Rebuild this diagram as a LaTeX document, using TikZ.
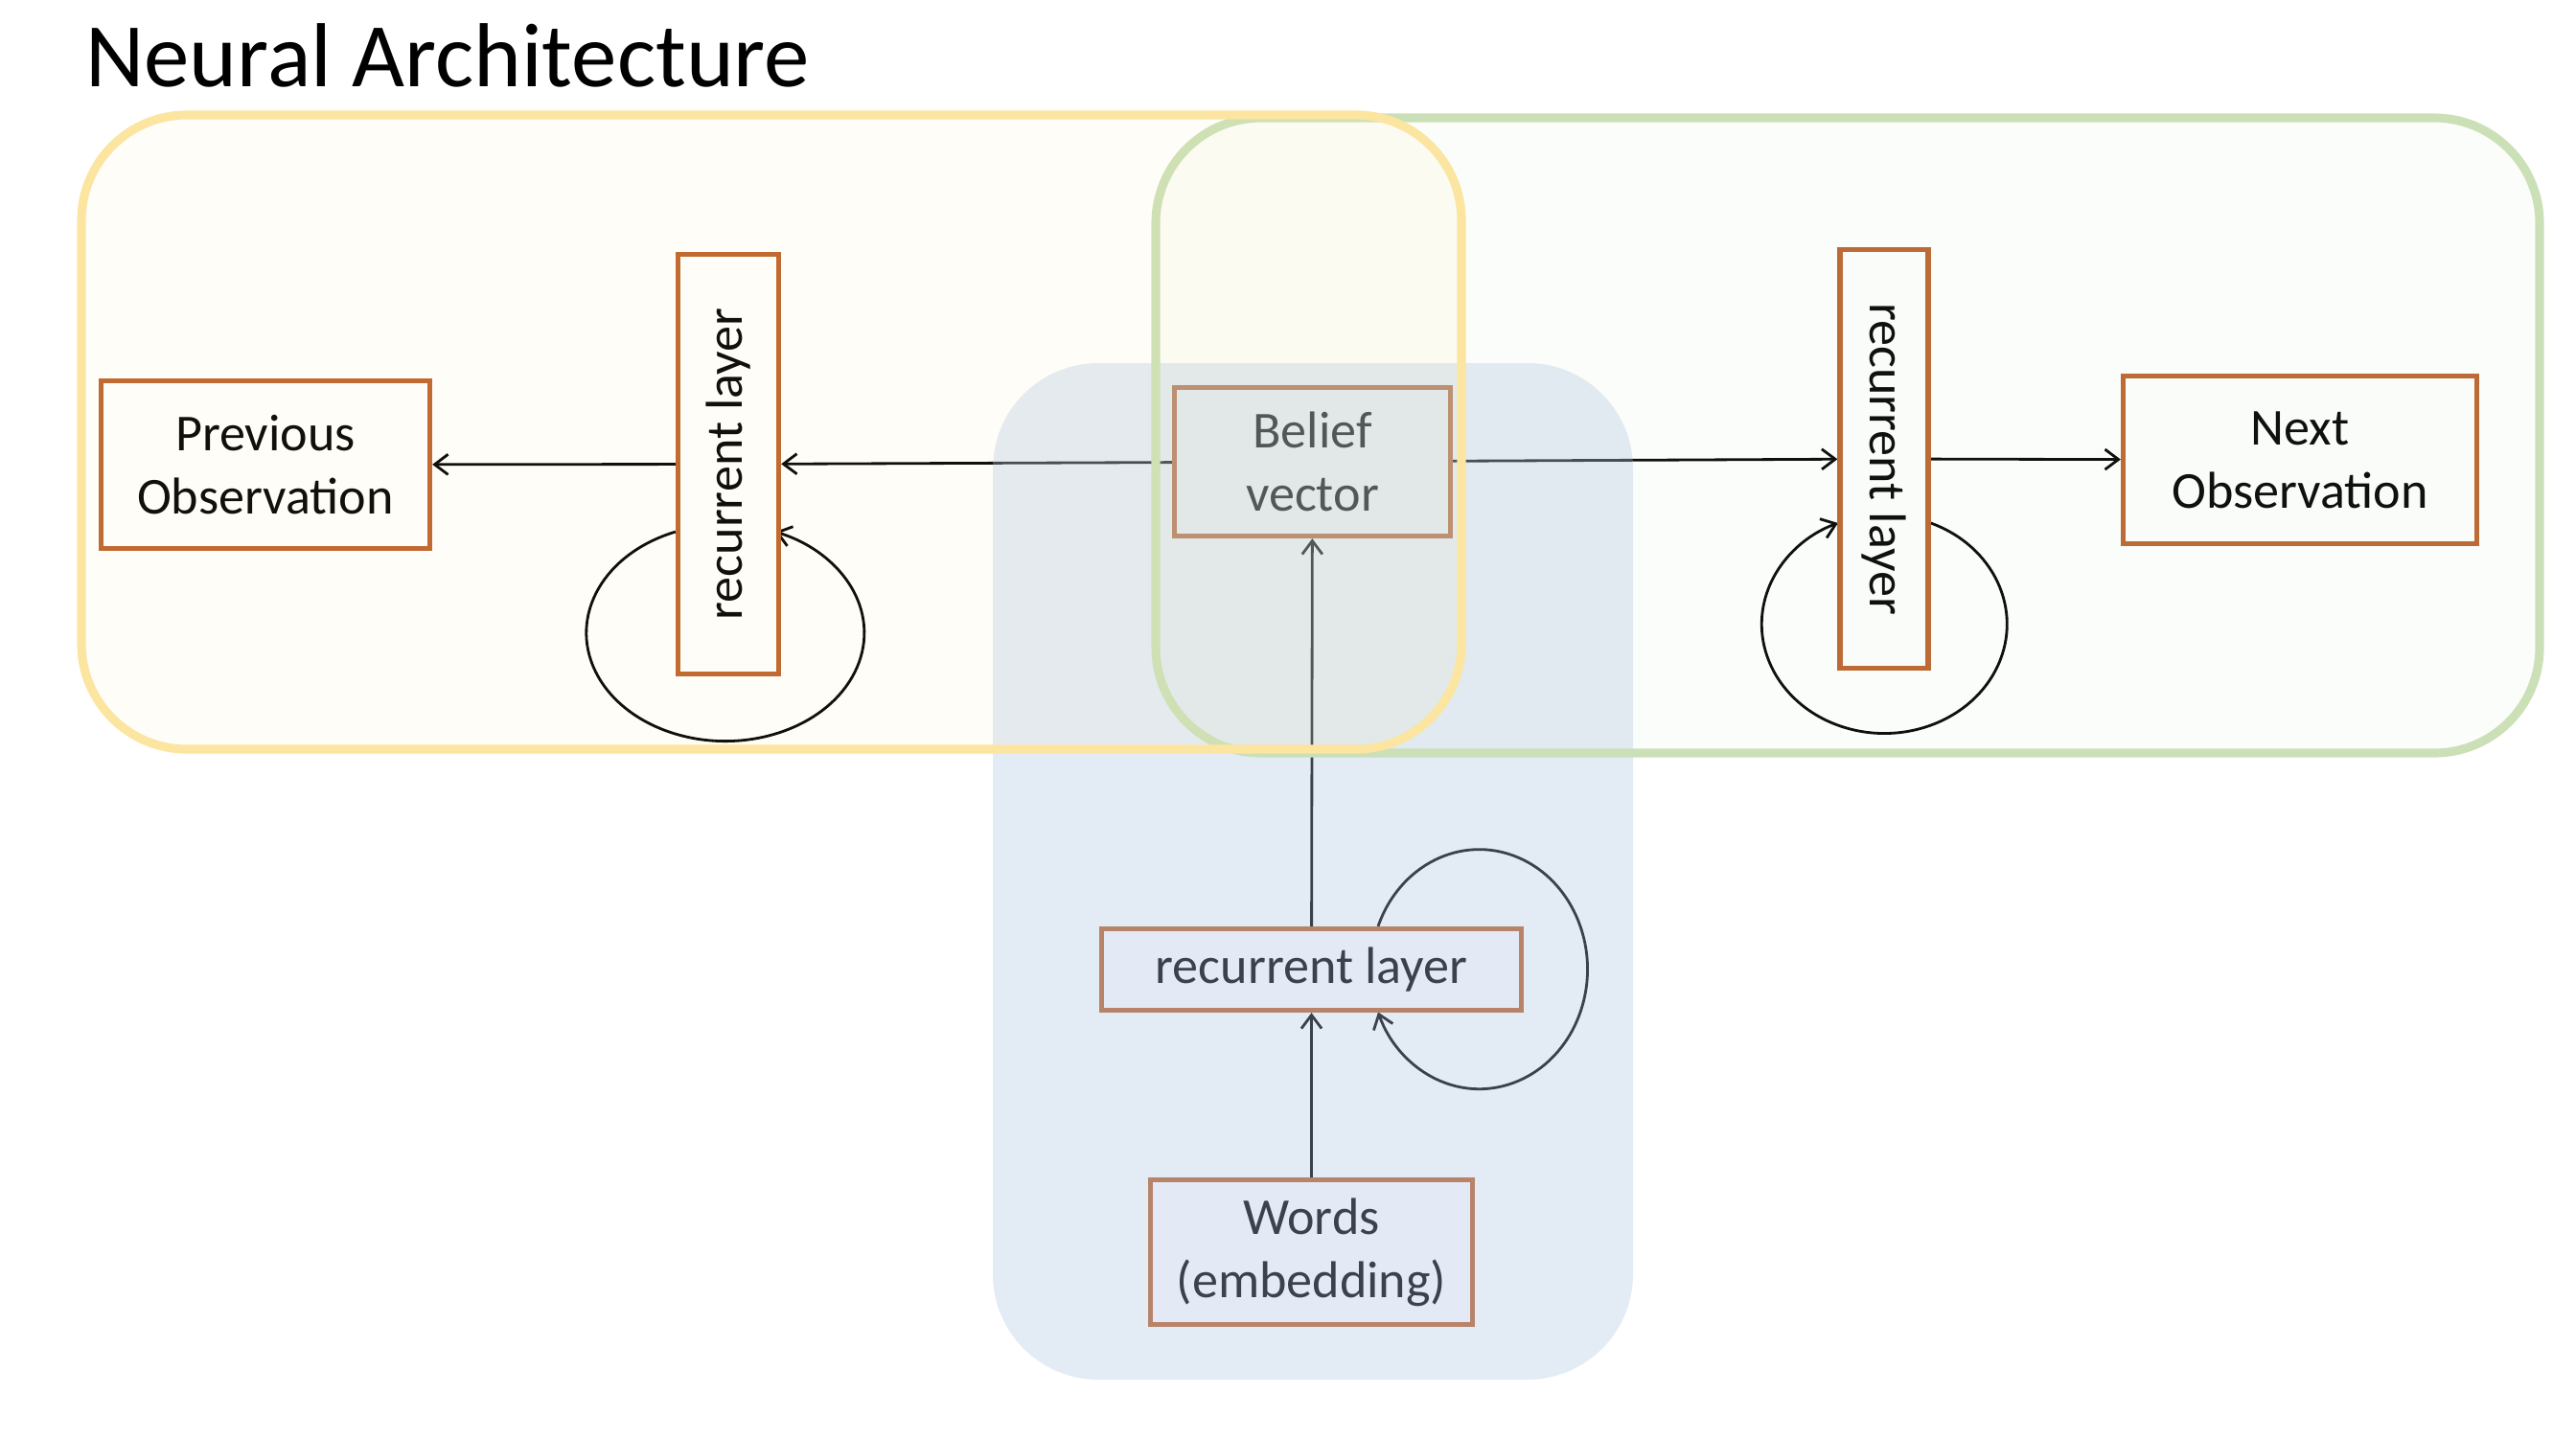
\documentclass[tikz,border=0pt]{standalone}
\usepackage{fontspec}
\setmainfont{Carlito}
\usepackage{graphicx}
\usepackage{tikz}
\definecolor{boxorange}{RGB}{189,98,44}
\definecolor{panelblue}{RGB}{174,196,226}
\definecolor{lineyellow}{RGB}{251,229,160}
\definecolor{fillyellow}{RGB}{255,230,153}
\definecolor{linegreen}{RGB}{204,224,184}
\definecolor{fillgreen}{RGB}{197,224,180}
\usetikzlibrary{arrows.meta}
\pgfdeclarelayer{edgelayer}
\pgfdeclarelayer{nodelayer}
\pgfsetlayers{edgelayer,nodelayer,main}
\tikzstyle{box}=[rectangle,fill=white,draw=boxorange,line width=1.5pt,inner sep=0pt,align=center,font=\fontsize{15.4}{18.8}\selectfont]
\tikzstyle{frame}=[line width=2.6pt,rounded corners=1.1cm]

\begin{document}
\begin{tikzpicture}[>={Straight Barb[length=4pt,width=6pt]}]
        \useasboundingbox (0,0) rectangle (26.88,-15);

        \begin{pgfonlayer}{nodelayer}
            \node [anchor=base west, font=\fontsize{27}{32}\selectfont] (title) at (0.77, -0.90) {Neural Architecture};

            \node [style = box, minimum width=3.43cm, minimum height=1.75cm] (prev) at (2.77, -4.85) {Previous\\Observation};
            \node [style = box, minimum width=1.05cm, minimum height=4.38cm] (rec1) at (7.60, -4.845) {\rotatebox{90}{recurrent layer}};
            \node [style = box, minimum width=2.88cm, minimum height=1.55cm] (belief) at (13.695, -4.82) {Belief\\vector};
            \node [style = box, minimum width=0.92cm, minimum height=4.37cm] (rec2) at (19.66, -4.79) {\rotatebox{-90}{recurrent layer}};
            \node [style = box, minimum width=3.69cm, minimum height=1.75cm] (next) at (24.00, -4.80) {Next\\Observation};

            \node [style = box, minimum width=4.38cm, minimum height=0.85cm] (rec3) at (13.685, -10.12) {recurrent layer};
            \node [style = box, minimum width=3.36cm, minimum height=1.51cm] (words) at (13.685, -13.07) {Words\\(embedding)};
        \end{pgfonlayer}

        \begin{pgfonlayer}{edgelayer}
            \draw [->, thick] (belief) to (rec1);
            \draw [->, thick] (rec1) to (prev);
            \draw [->, thick] (belief) to (rec2);
            \draw [->, thick] (rec2) to (next);
            \draw [->, thick] (rec3) to (belief);
            \draw [->, thick] (words) to (rec3);

            % self loops
            \draw [->, thick] (rec1.232) arc [start angle=111, end angle=429, x radius=1.45, y radius=1.13];
            \draw [->, thick] (rec2.306) arc [start angle=67.8, end angle=-247.8, x radius=1.28, y radius=1.14];
            \draw [->, thick] (rec3.33) arc [start angle=159, end angle=-159, x radius=1.13, y radius=1.25];
        \end{pgfonlayer}

        % panels
        \fill [panelblue, fill opacity=0.34, rounded corners=1.1cm] (10.36, -3.79) rectangle (17.04, -14.40);
        \draw [style = frame, draw=linegreen, fill=fillgreen, fill opacity=0.08] (12.06, -1.23) rectangle (26.50, -7.86);
        \draw [style = frame, draw=lineyellow, fill=fillyellow, fill opacity=0.07] (0.85, -1.20) rectangle (15.25, -7.82);
    \end{tikzpicture}
\end{document}
